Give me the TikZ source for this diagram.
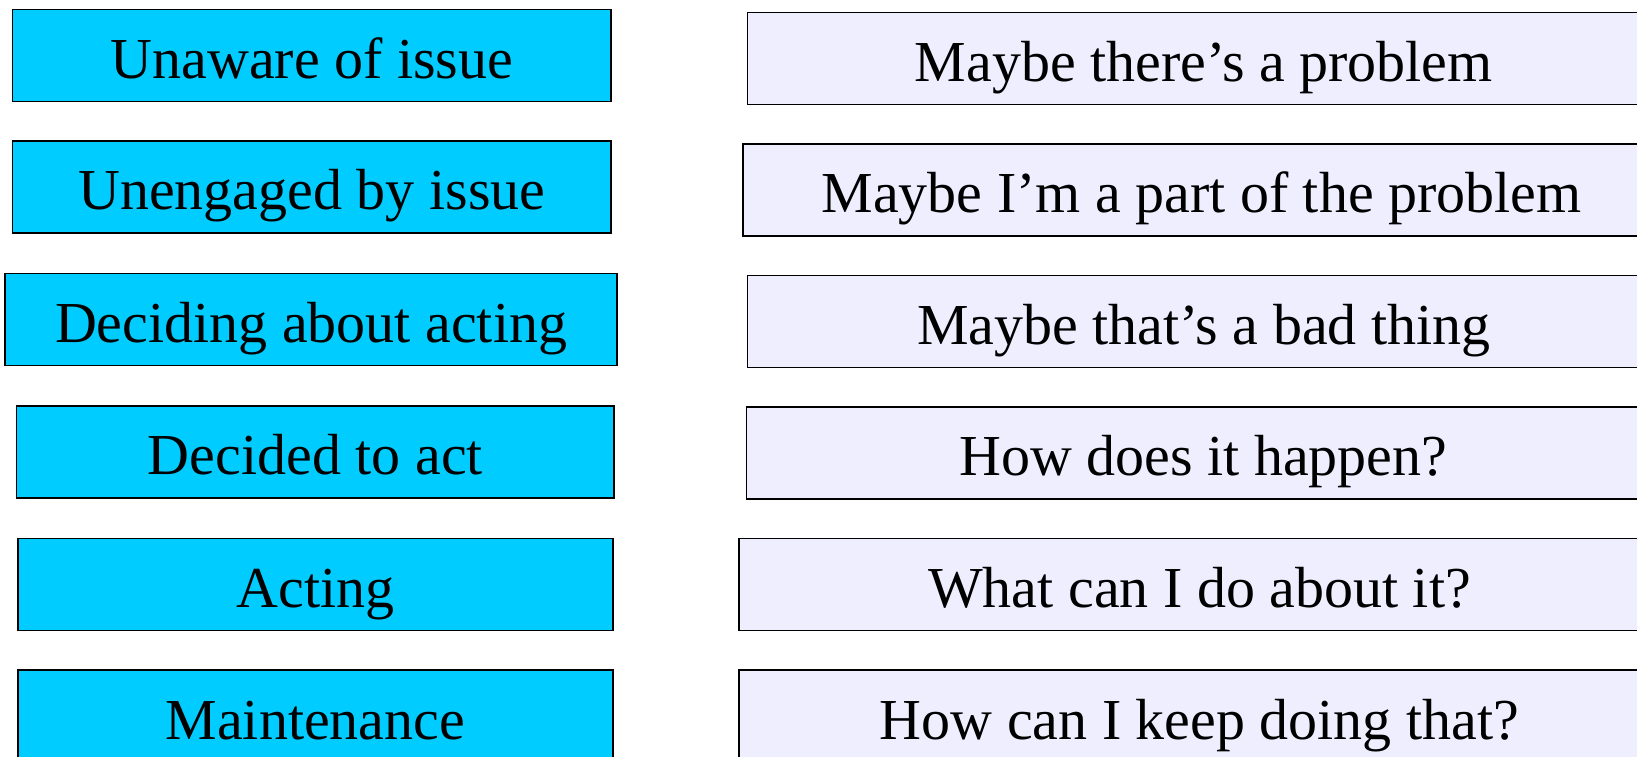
\documentclass[tikz,border=0pt]{standalone}
\usepackage{fontspec}
\setmainfont{Liberation Serif}
\usepackage{xcolor}
\definecolor{StageCyan}{RGB}{0,204,255}
\definecolor{QuestLavender}{RGB}{238,238,255}
\tikzset{
  stagebox/.style={draw=black,line width=0.8pt,fill=StageCyan,inner sep=0pt,
    minimum height=1.84cm,text height=1.1cm,text depth=0.18cm,
    align=center,font=\fontsize{33}{40}\selectfont},
  questbox/.style={draw=black,line width=0.8pt,fill=QuestLavender,inner sep=0pt,
    minimum height=1.84cm,text height=1.1cm,text depth=0.18cm,
    align=center,font=\fontsize{33}{40}\selectfont},
}

\begin{document}
\begin{tikzpicture}[x=0.02cm,y=-0.02cm]
    \useasboundingbox (0,0) rectangle (1637,757);
    \clip (0,0) rectangle (1637,757);
    % stages
    \node (stage1) [stagebox,minimum width=11.97cm] at (311.8,55.4)  {Unaware of issue};
    \node (stage2) [stagebox,minimum width=11.97cm] at (311.8,187)   {Unengaged by issue};
    \node (stage3) [stagebox,minimum width=12.24cm] at (311.1,319.5) {Deciding about acting};
    \node (stage4) [stagebox,minimum width=11.95cm] at (315.4,452)   {Decided to act};
    \node (stage5) [stagebox,minimum width=11.9cm]  at (315.4,584.7) {Acting};
    \node (stage6) [stagebox,minimum width=11.9cm]  at (315.4,716)   {Maintenance};
    % questions
    \node (quest1) [questbox,minimum width=18.25cm] at (1203.8,58.5)  {Maybe there’s a problem};
    \node (quest2) [questbox,minimum width=18.34cm] at (1201.5,190)   {Maybe I’m a part of the problem};
    \node (quest3) [questbox,minimum width=18.25cm] at (1203.8,321.5) {Maybe that’s a bad thing};
    \node (quest4) [questbox,minimum width=18.27cm] at (1203.3,453)   {How does it happen?};
    \node (quest5) [questbox,minimum width=18.42cm] at (1199.5,584.7) {What can I do about it?};
    \node (quest6) [questbox,minimum width=18.42cm] at (1199.5,716)   {How can I keep doing that?};
\end{tikzpicture}
\end{document}
